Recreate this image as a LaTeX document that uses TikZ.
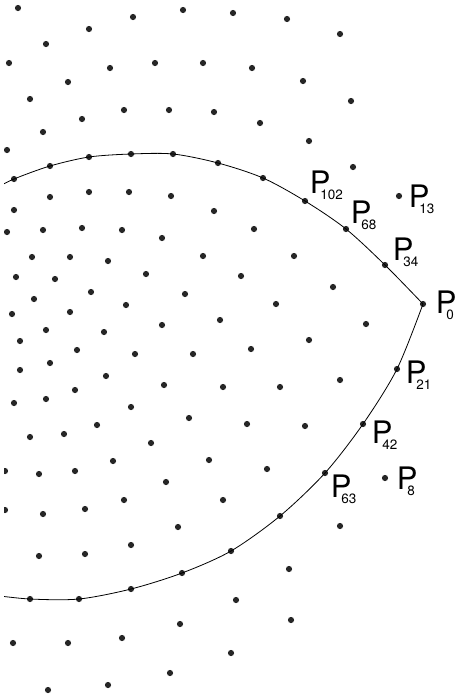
\documentclass[tikz,border=0pt]{standalone}
\usepackage{fontspec}
\setmainfont{TeX Gyre Heros}
\usetikzlibrary{positioning}
\tikzset{
  dot/.style={circle, fill=black!85, inner sep=0pt, minimum size=6.2pt},
  lbl/.style={anchor=base west, inner sep=0pt, font=\fontsize{31}{31}\selectfont},
  lens/.style={line width=0.8pt}
}
\newcommand{\pn}[1]{P\kern-10pt\raisebox{-6pt}{\fontsize{13.5}{13.5}\selectfont #1}}

\begin{document}
\begin{tikzpicture}[x=1pt,y=-1pt]
  \useasboundingbox (0,0) rectangle (457,697);
  \clip (4,0) rectangle (457,697);

  % lattice points off the two parastichies
  \foreach \x/\y [count=\i] in {18/8, 183/10, 133/17, 89/29, 46/44, 9/63, 110/68, 155/63, 203/63,
      68/82, 30/99, 124/110, 169/110, 214/112, 82/119, 43/132, 7/150,
      50/197, 89/192, 129/192, 171/196, 14/210, 214/211, 7/232, 43/230, 82/228, 122/230,
      233/13, 287/19, 340/34, 252/68, 303/81, 351/101, 260/123, 309/141, 353/167, 254/229,
      162/238, 32/257, 70/257, 108/261, 203/256, 16/277, 55/279, 146/274, 91/292, 185/294,
      34/299, 126/305, 12/314, 70/312, 162/325, 220/320, 46/330, 104/332, 20/341, 77/350,
      135/354, 193/354, 50/363, 20/370, 106/376, 164/385, 223/387, 75/390, 14/403, 46/399,
      131/407, 189/418, 97/425, 30/437, 64/434, 151/443, 113/461, 209/460,
      294/256, 241/276, 333/287, 276/304, 366/324, 309/340, 251/349, 340/380, 280/387,
      247/424, 305/426,
      5/471, 39/474, 75/471, 166/482, 223/500, 124/500, 5/510, 43/514, 85/509, 178/527,
      131/545, 39/556, 85/554, 180/624, 122/638, 13/643, 68/643, 170/673, 108/685, 48/690,
      267/469, 340/526, 289/569, 236/600, 291/620, 231/653}
    \node[dot] (d\i) at (\x,\y) {};

  % named points
  \node[dot] (p0) at (423,304) {};
  \node[dot] (p8) at (385,478) {};
  \node[dot] (p13) at (399,196) {};
  \node[dot] (p21) at (397,369) {};
  \node[dot] (p34) at (385,265) {};
  \node[dot] (p42) at (363,424) {};
  \node[dot] (p63) at (325,473) {};
  \node[dot] (p68) at (346,229) {};
  \node[dot] (p102) at (305,201) {};

  % the rest of both parastichies
  \foreach \x/\y [count=\i] in {263/178, 218/163, 173/154, 131/154, 89/157, 50/166, 14/179}
    \node[dot] (u\i) at (\x,\y) {};
  \foreach \x/\y [count=\i] in {280/516, 231/551, 182/573, 131/589, 79/599, 30/599}
    \node[dot] (w\i) at (\x,\y) {};
  \coordinate (uend) at (-8,190);
  \coordinate (wend) at (-8,595);

  \draw[lens] plot[smooth] coordinates {(p0.center) (p34.center) (p68.center) (p102.center)
    (u1.center) (u2.center) (u3.center) (u4.center) (u5.center) (u6.center) (u7.center) (uend)};
  \draw[lens] plot[smooth] coordinates {(p0.center) (p21.center) (p42.center) (p63.center)
    (w1.center) (w2.center) (w3.center) (w4.center) (w5.center) (w6.center) (wend)};

  \node[lbl] (l0) at (435.6,313) {\pn{0}};
  \node[lbl] (l8) at (396.6,489) {\pn{8}};
  \node[lbl] (l13) at (408.6,207) {\pn{13}};
  \node[lbl] (l21) at (405.6,383) {\pn{21}};
  \node[lbl] (l34) at (392.6,260) {\pn{34}};
  \node[lbl] (l42) at (371.6,443) {\pn{42}};
  \node[lbl] (l63) at (330.6,497) {\pn{63}};
  \node[lbl] (l68) at (350.6,223) {\pn{68}};
  \node[lbl] (l102) at (309.6,193) {\pn{102}};
\end{tikzpicture}
\end{document}
